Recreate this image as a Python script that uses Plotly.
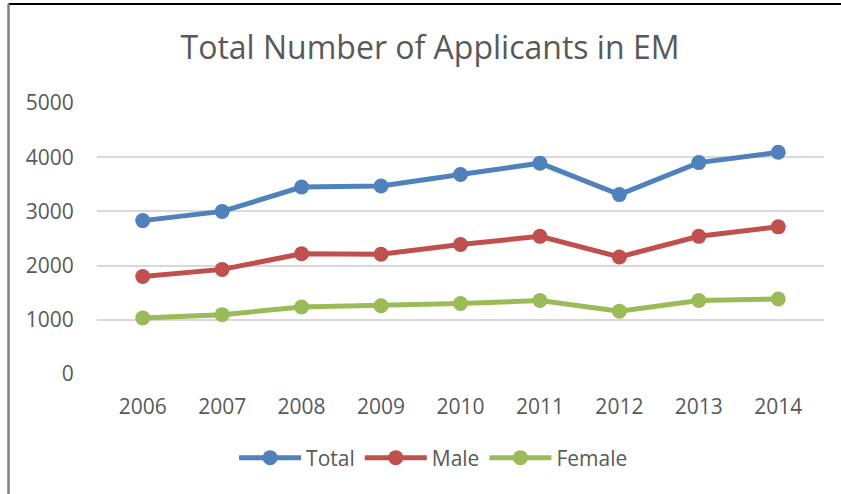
import plotly.graph_objects as go

years = ["2006", "2007", "2008", "2009", "2010", "2011", "2012", "2013", "2014"]
total = [2830, 3000, 3450, 3470, 3680, 3890, 3310, 3900, 4090]
male = [1800, 1930, 2220, 2210, 2390, 2540, 2160, 2540, 2715]
female = [1035, 1095, 1235, 1260, 1300, 1355, 1160, 1355, 1385]
y_ticks = [0, 1000, 2000, 3000, 4000, 5000]

series = [("Total", total, "#4F81BD"), ("Male", male, "#C0504D"), ("Female", female, "#9BBB59")]

W, H = 841, 494
ML, MR, MT, MB = 97, 17, 103, 120
FONT = "Open Sans"
TXT = "#595959"

fig = go.Figure()
for name, vals, col in series:
    fig.add_trace(go.Scatter(
        x=years, y=vals, name=name, mode="lines+markers",
        line=dict(color=col, width=5),
        marker=dict(color=col, size=15),
    ))

pw = W - ML - MR
ph = H - MT - MB
def px_x(p):
    return (p - ML) / pw
def px_y(p):
    return (H - MB - p) / ph

fig.update_layout(
    width=W, height=H,
    margin=dict(l=ML, r=MR, t=MT, b=MB),
    paper_bgcolor="white", plot_bgcolor="white",
    font=dict(family=FONT, color=TXT, size=21),
    title=dict(text="Total Number of Applicants in EM", x=430 / W, xanchor="center",
               y=1 - 48 / H, yanchor="middle",
               font=dict(family=FONT, size=32, color=TXT)),
    xaxis=dict(type="category", showgrid=False, zeroline=False, showline=False,
               ticks="outside", ticklen=14, tickcolor="rgba(0,0,0,0)",
               tickfont=dict(size=21, color=TXT)),
    yaxis=dict(range=[0, 5000], tickvals=y_ticks, showgrid=True,
               gridcolor="#D9D9D9", gridwidth=1.5, zeroline=False, showline=False,
               ticks="outside", ticklen=18, tickcolor="rgba(0,0,0,0)",
               tickfont=dict(size=21, color=TXT)),
    legend=dict(orientation="h", x=0.463, xanchor="center", y=px_y(458), yanchor="middle",
                font=dict(size=21, color=TXT), itemwidth=62, traceorder="normal",
                itemsizing="trace"),
    shapes=[
        dict(type="line", xref="paper", yref="paper", x0=px_x(8.5), x1=px_x(845),
             y0=px_y(4), y1=px_y(4), line=dict(color="black", width=2)),
        dict(type="line", xref="paper", yref="paper", x0=px_x(8.5), x1=px_x(8.5),
             y0=px_y(4), y1=px_y(500), line=dict(color="#808080", width=2.5)),
    ],
)

fig.write_html("out.html", config={"displayModeBar": False},
               post_script="document.body.style.margin='0px';")
